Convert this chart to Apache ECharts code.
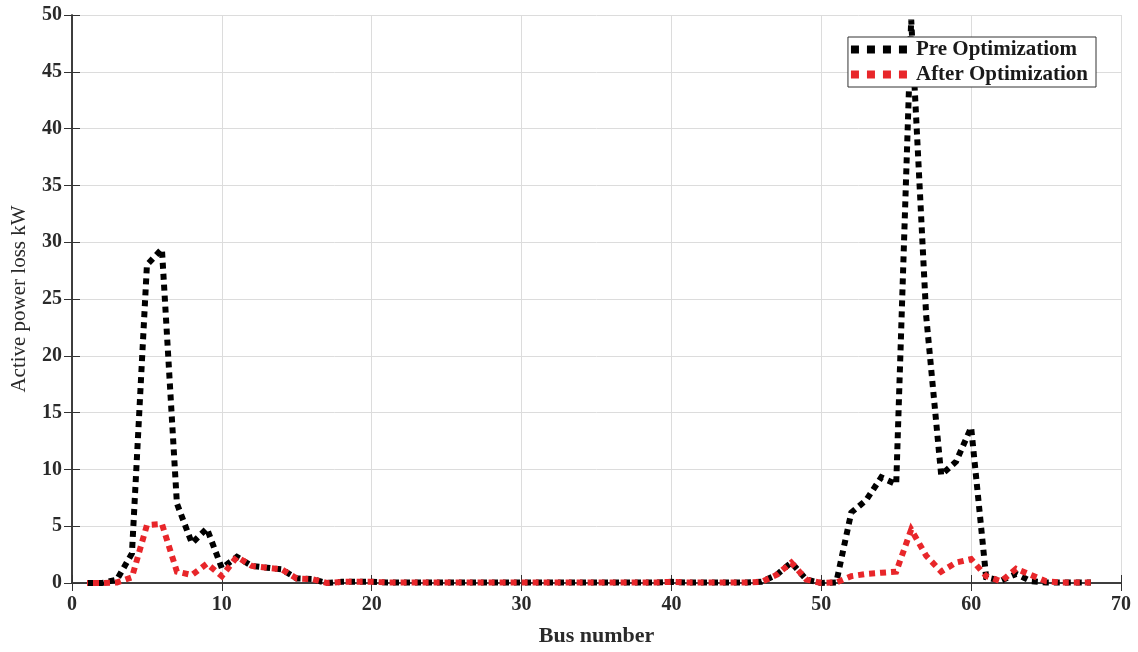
<!DOCTYPE html>
<html>
<head>
<meta charset="utf-8">
<script src="https://cdn.jsdelivr.net/npm/echarts@6/dist/echarts.min.js"></script>
<style>
html,body{margin:0;padding:0;background:#fff;}
#chart{width:1138px;height:652px;}
</style>
</head>
<body>
<div id="chart"></div>
<script>
const busNumbers = [1,2,3,4,5,6,7,8,9,10,11,12,13,14,15,16,17,18,19,20,21,22,23,24,25,26,27,28,29,30,31,32,33,34,35,36,37,38,39,40,41,42,43,44,45,46,47,48,49,50,51,52,53,54,55,56,57,58,59,60,61,62,63,64,65,66,67,68];
const preOptimization = [0,0,0.3,2.6,28.0,29.4,7.0,3.5,4.8,1.3,2.3,1.5,1.35,1.2,0.4,0.35,0.0,0.1,0.1,0.1,0.05,0.05,0.05,0.05,0.05,0.05,0.05,0.05,0.05,0.05,0.05,0.05,0.05,0.05,0.05,0.05,0.05,0.05,0.05,0.1,0.05,0.05,0.05,0.05,0.05,0.1,0.7,1.8,0.3,0.0,0.05,6.2,7.3,9.3,8.7,49.6,23.5,9.5,10.7,13.7,0.5,0.2,0.8,0.15,0.05,0.05,0.05,0.05];
const afterOptimization = [0,0,0.05,0.5,5.1,5.2,1.0,0.7,1.7,0.6,2.3,1.5,1.35,1.2,0.4,0.35,0.0,0.1,0.1,0.1,0.05,0.05,0.05,0.05,0.05,0.05,0.05,0.05,0.05,0.05,0.05,0.05,0.05,0.05,0.05,0.05,0.05,0.05,0.05,0.1,0.05,0.05,0.05,0.05,0.05,0.1,0.7,1.8,0.3,0.0,0.05,0.6,0.8,0.9,1.0,4.7,2.4,1.0,1.8,2.1,0.6,0.15,1.25,0.7,0.15,0.05,0.05,0.05];
const seriesNames = ['Pre Optimizatiom', 'After Optimization'];
const xTicks = {min: 0, max: 70, interval: 10};
const yTicks = {min: 0, max: 50, interval: 5};

const font = 'Liberation Serif';
const chart = echarts.init(document.getElementById('chart'), null, {renderer: 'canvas'});
const pair = vals => busNumbers.map((b, i) => [b, vals[i]]);
const axisLineStyle = {color: '#333', width: 1.5};
const splitLine = {show: true, lineStyle: {color: '#dcdcdc', width: 1}};
const labelStyle = {fontFamily: font, fontWeight: 'bold', fontSize: 20, color: '#2a2a2a'};
const dotsIcon = 'path://M0,0h8v8h-8z M16,0h8v8h-8z M32,0h8v8h-8z M48,0h8v8h-8z';

chart.setOption({
  animation: false,
  backgroundColor: '#fff',
  grid: {left: 72, right: 17, top: 15, bottom: 62, containLabel: false},
  legend: {
    orient: 'vertical',
    right: 42, top: 37,
    backgroundColor: '#fff',
    borderColor: '#333', borderWidth: 1,
    padding: [2, 8, 2, 3],
    itemGap: 4,
    itemWidth: 56, itemHeight: 8,
    icon: dotsIcon,
    textStyle: {fontFamily: font, fontWeight: 'bold', fontSize: 21, color: '#1a1a1a', padding: [0, 0, 0, 4]},
    data: seriesNames
  },
  xAxis: [{
    type: 'value', min: xTicks.min, max: xTicks.max, interval: xTicks.interval,
    name: 'Bus number', nameLocation: 'middle', nameGap: 42,
    nameTextStyle: {fontFamily: font, fontWeight: 'bold', fontSize: 22, color: '#2a2a2a'},
    axisLine: {lineStyle: axisLineStyle},
    axisTick: {inside: true, length: 8, lineStyle: {color: '#333'}},
    axisLabel: Object.assign({margin: 12}, labelStyle),
    splitLine: splitLine
  }, {
    type: 'value', position: 'top', min: xTicks.min, max: xTicks.max, interval: xTicks.interval,
    axisLine: {lineStyle: axisLineStyle},
    axisTick: {inside: true, length: 8, lineStyle: {color: '#333'}},
    axisLabel: {show: false}, splitLine: {show: false}
  }],
  yAxis: [{
    type: 'value', min: yTicks.min, max: yTicks.max, interval: yTicks.interval,
    name: 'Active power loss kW', nameLocation: 'middle', nameGap: 42,
    nameTextStyle: {fontFamily: font, fontSize: 21, color: '#2a2a2a'},
    axisLine: {lineStyle: axisLineStyle},
    axisTick: {inside: true, length: 8, lineStyle: {color: '#333'}},
    axisLabel: Object.assign({margin: 10}, labelStyle),
    splitLine: splitLine
  }, {
    type: 'value', position: 'right', min: yTicks.min, max: yTicks.max, interval: yTicks.interval,
    axisLine: {show: true, lineStyle: axisLineStyle},
    axisTick: {show: true, inside: true, length: 8, lineStyle: {color: '#333'}},
    axisLabel: {show: false}, splitLine: {show: false}
  }],
  series: [{
    name: seriesNames[0], type: 'line', data: pair(preOptimization),
    symbol: 'none', color: '#000',
    lineStyle: {color: '#000', width: 6, type: [6, 5], cap: 'butt', join: 'miter'},
    z: 2
  }, {
    name: seriesNames[1], type: 'line', data: pair(afterOptimization),
    symbol: 'none', color: '#e8262a',
    lineStyle: {color: '#e8262a', width: 6, type: [6, 5], dashOffset: 5, cap: 'butt', join: 'miter'},
    z: 3
  }]
});
</script>
</body>
</html>
